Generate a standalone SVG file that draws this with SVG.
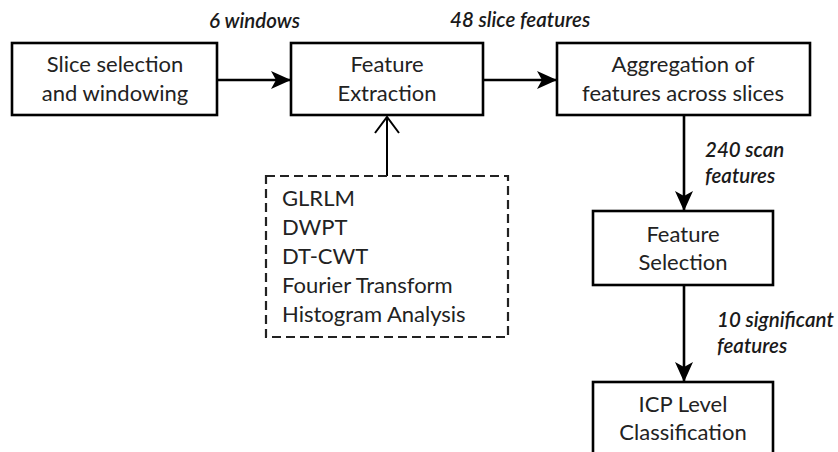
<svg xmlns="http://www.w3.org/2000/svg" width="838" height="452" viewBox="0 0 838 452">
  <style>
    .box { fill: #ffffff; stroke: #000000; stroke-width: 2.6; }
    .dash { fill: none; stroke: #222222; stroke-width: 2.2; stroke-dasharray: 9 5; }
    .lbl { font-family: Lato, "Liberation Sans", sans-serif; font-size: 22px; fill: #222222; text-anchor: middle; }
    .lst { font-family: Lato, "Liberation Sans", sans-serif; font-size: 22px; fill: #222222; }
    .tag { font-family: Lato, "Liberation Sans", sans-serif; font-size: 20.5px; font-style: italic; font-weight: 600; fill: #1a1a1a; }
    .edge { fill: none; stroke: #000000; stroke-width: 2.6; }
    .thin { fill: none; stroke: #000000; stroke-width: 2; }
  </style>
  <defs>
    <marker id="barb" viewBox="0 0 20 18" refX="19" refY="9" markerWidth="20" markerHeight="18" markerUnits="userSpaceOnUse" orient="auto">
      <path d="M0,0 L20,9 L0,18 L5,9 Z" fill="#000000"/>
    </marker>
    <marker id="open" viewBox="0 0 20 26" refX="18" refY="13" markerWidth="20" markerHeight="26" markerUnits="userSpaceOnUse" orient="auto">
      <path d="M2,1 L18,13 L2,25" fill="none" stroke="#000000" stroke-width="2"/>
    </marker>
  </defs>

  <!-- connectors and their labels -->
  <g id="connectors">
    <line class="edge" x1="217" y1="80" x2="290" y2="80" marker-end="url(#barb)"/>
    <line class="edge" x1="483" y1="80" x2="556" y2="80" marker-end="url(#barb)"/>
    <line class="thin" x1="387" y1="176" x2="387" y2="117" marker-end="url(#open)"/>
    <line class="edge" x1="684" y1="116" x2="684" y2="210" marker-end="url(#barb)"/>
    <line class="edge" x1="684" y1="285" x2="684" y2="381" marker-end="url(#barb)"/>
    <text class="tag" x="209" y="28">6 windows</text>
    <text class="tag" x="450" y="27">48 slice features</text>
    <text class="tag" x="705" y="157">240 scan</text>
    <text class="tag" x="705" y="183">features</text>
    <text class="tag" x="717" y="327">10 significant</text>
    <text class="tag" x="717" y="353">features</text>
  </g>

  <g id="slice-selection">
    <rect class="box" x="12" y="43" width="205" height="72"/>
    <text class="lbl" x="115" y="72">Slice selection</text>
    <text class="lbl" x="115" y="101">and windowing</text>
  </g>

  <g id="feature-extraction">
    <rect class="box" x="291" y="43" width="192" height="72"/>
    <text class="lbl" x="387" y="72">Feature</text>
    <text class="lbl" x="387" y="101">Extraction</text>
  </g>

  <g id="aggregation">
    <rect class="box" x="557" y="43" width="253" height="72"/>
    <text class="lbl" x="683" y="72">Aggregation of</text>
    <text class="lbl" x="683" y="101">features across slices</text>
  </g>

  <g id="methods">
    <rect class="dash" x="266" y="176" width="242" height="161"/>
    <text class="lst" x="282" y="206">GLRLM</text>
    <text class="lst" x="282" y="235">DWPT</text>
    <text class="lst" x="282" y="264">DT-CWT</text>
    <text class="lst" x="282" y="293">Fourier Transform</text>
    <text class="lst" x="282" y="322">Histogram Analysis</text>
  </g>

  <g id="feature-selection">
    <rect class="box" x="593" y="211" width="180" height="74"/>
    <text class="lbl" x="683" y="242">Feature</text>
    <text class="lbl" x="683" y="270">Selection</text>
  </g>

  <g id="icp-classification">
    <rect class="box" x="593" y="382" width="180" height="72"/>
    <text class="lbl" x="683" y="412">ICP Level</text>
    <text class="lbl" x="683" y="440">Classification</text>
  </g>
</svg>
